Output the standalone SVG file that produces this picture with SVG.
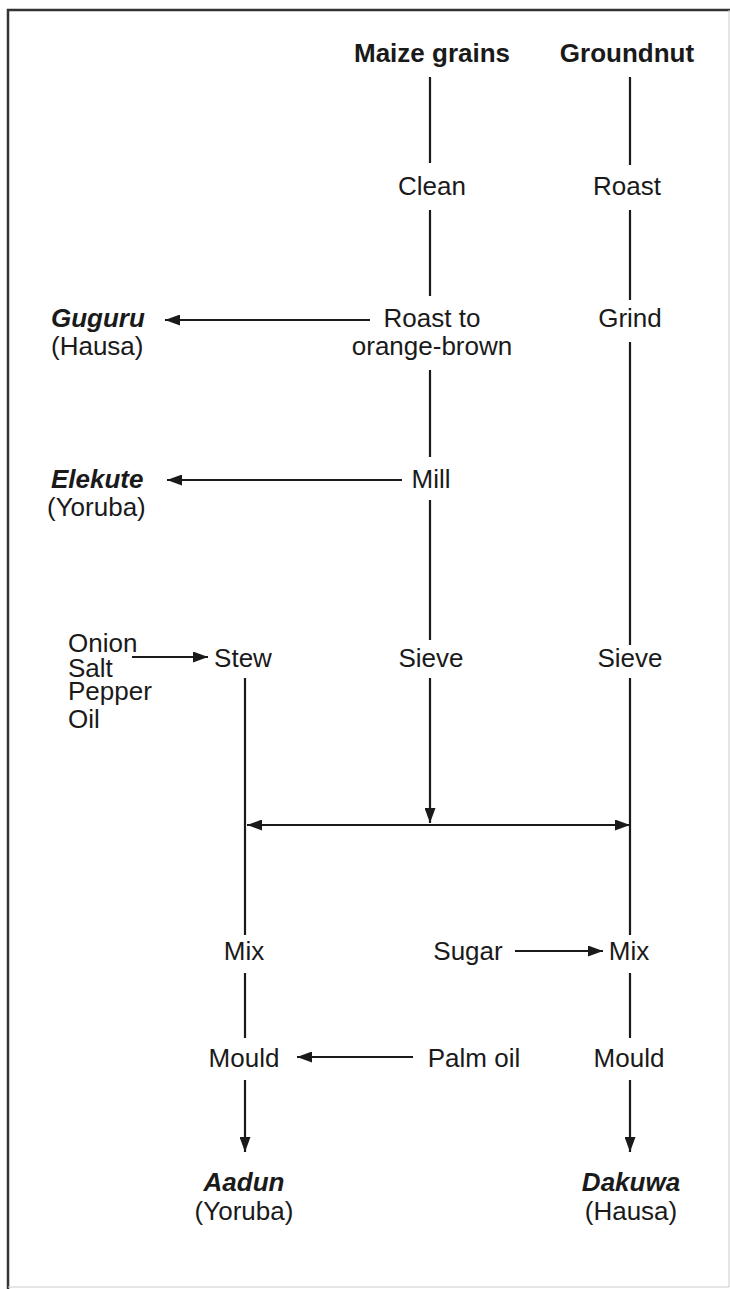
<svg xmlns="http://www.w3.org/2000/svg" width="730" height="1289" viewBox="0 0 730 1289">
  <style>
    text { font-family: "Liberation Sans", Arial, sans-serif; font-size: 26px; fill: #1a1a1a; }
    .c { text-anchor: middle; }
    .b { font-weight: bold; }
    .bi { font-weight: bold; font-style: italic; }
    .ln { stroke: #1a1a1a; stroke-width: 2.2; fill: none; }
    .frame { stroke: #333; stroke-width: 2.5; fill: none; }
  </style>
  <defs>
    <marker id="ah" viewBox="0 0 15 11" refX="15" refY="5.5" markerWidth="15" markerHeight="11" markerUnits="userSpaceOnUse" orient="auto-start-reverse">
      <path d="M0,0 L15,5.5 L0,11 Z" fill="#1a1a1a"/>
    </marker>
  </defs>
  <rect width="730" height="1289" fill="#fff"/>
  <!-- page frame -->
  <path class="frame" d="M8,1289 V10 H730"/>
  <path d="M729,10 V1287 H8" stroke="#ccc" stroke-width="1" fill="none"/>

  <!-- connectors -->
  <g id="connectors" class="ln">
    <!-- maize column -->
    <line x1="430" y1="77" x2="430" y2="163"/>
    <line x1="430" y1="210" x2="430" y2="296"/>
    <line x1="430" y1="370" x2="430" y2="457"/>
    <line x1="430" y1="500" x2="430" y2="640"/>
    <line x1="430" y1="678" x2="430" y2="823" marker-end="url(#ah)"/>
    <!-- groundnut column -->
    <line x1="630" y1="77" x2="630" y2="165"/>
    <line x1="630" y1="210" x2="630" y2="300"/>
    <line x1="630" y1="342" x2="630" y2="645"/>
    <line x1="630" y1="678" x2="630" y2="935"/>
    <line x1="630" y1="973" x2="630" y2="1038"/>
    <line x1="630" y1="1080" x2="630" y2="1152" marker-end="url(#ah)"/>
    <!-- stew column -->
    <line x1="245" y1="678" x2="245" y2="935"/>
    <line x1="245" y1="973" x2="245" y2="1038"/>
    <line x1="245" y1="1080" x2="245" y2="1152" marker-end="url(#ah)"/>
    <!-- side branches -->
    <line x1="370" y1="320" x2="165" y2="320" marker-end="url(#ah)"/>
    <line x1="402" y1="480" x2="167" y2="480" marker-end="url(#ah)"/>
    <line x1="132" y1="657" x2="208" y2="657" marker-end="url(#ah)"/>
    <line x1="247" y1="825" x2="630" y2="825" marker-start="url(#ah)" marker-end="url(#ah)"/>
    <line x1="515" y1="951" x2="603" y2="951" marker-end="url(#ah)"/>
    <line x1="413" y1="1057" x2="297" y2="1057" marker-end="url(#ah)"/>
  </g>

  <!-- nodes -->
  <g id="maize"><text class="c b" x="432" y="62">Maize grains</text></g>
  <g id="groundnut"><text class="c b" x="627" y="62">Groundnut</text></g>
  <g id="clean"><text class="c" x="432" y="195">Clean</text></g>
  <g id="roast-gn"><text class="c" x="627" y="195">Roast</text></g>
  <g id="roast-maize">
    <text class="c" x="432" y="327">Roast to</text>
    <text class="c" x="432" y="355">orange-brown</text>
  </g>
  <g id="grind"><text class="c" x="630" y="327">Grind</text></g>
  <g id="guguru">
    <text class="bi" x="51" y="327">Guguru</text>
    <text x="51" y="355">(Hausa)</text>
  </g>
  <g id="mill"><text class="c" x="431" y="488">Mill</text></g>
  <g id="elekute">
    <text class="bi" x="51" y="488">Elekute</text>
    <text x="47" y="516">(Yoruba)</text>
  </g>
  <g id="seasoning">
    <text x="68" y="652">Onion</text>
    <text x="68" y="677">Salt</text>
    <text x="68" y="700">Pepper</text>
    <text x="68" y="728">Oil</text>
  </g>
  <g id="stew"><text class="c" x="243" y="667">Stew</text></g>
  <g id="sieve-maize"><text class="c" x="431" y="667">Sieve</text></g>
  <g id="sieve-gn"><text class="c" x="630" y="667">Sieve</text></g>
  <g id="mix-left"><text class="c" x="244" y="960">Mix</text></g>
  <g id="sugar"><text class="c" x="468" y="960">Sugar</text></g>
  <g id="mix-right"><text class="c" x="629" y="960">Mix</text></g>
  <g id="mould-left"><text class="c" x="244" y="1067">Mould</text></g>
  <g id="palm-oil"><text class="c" x="474" y="1067">Palm oil</text></g>
  <g id="mould-right"><text class="c" x="629" y="1067">Mould</text></g>
  <g id="aadun">
    <text class="c bi" x="244" y="1191">Aadun</text>
    <text class="c" x="244" y="1220">(Yoruba)</text>
  </g>
  <g id="dakuwa">
    <text class="c bi" x="631" y="1191">Dakuwa</text>
    <text class="c" x="631" y="1220">(Hausa)</text>
  </g>
</svg>
